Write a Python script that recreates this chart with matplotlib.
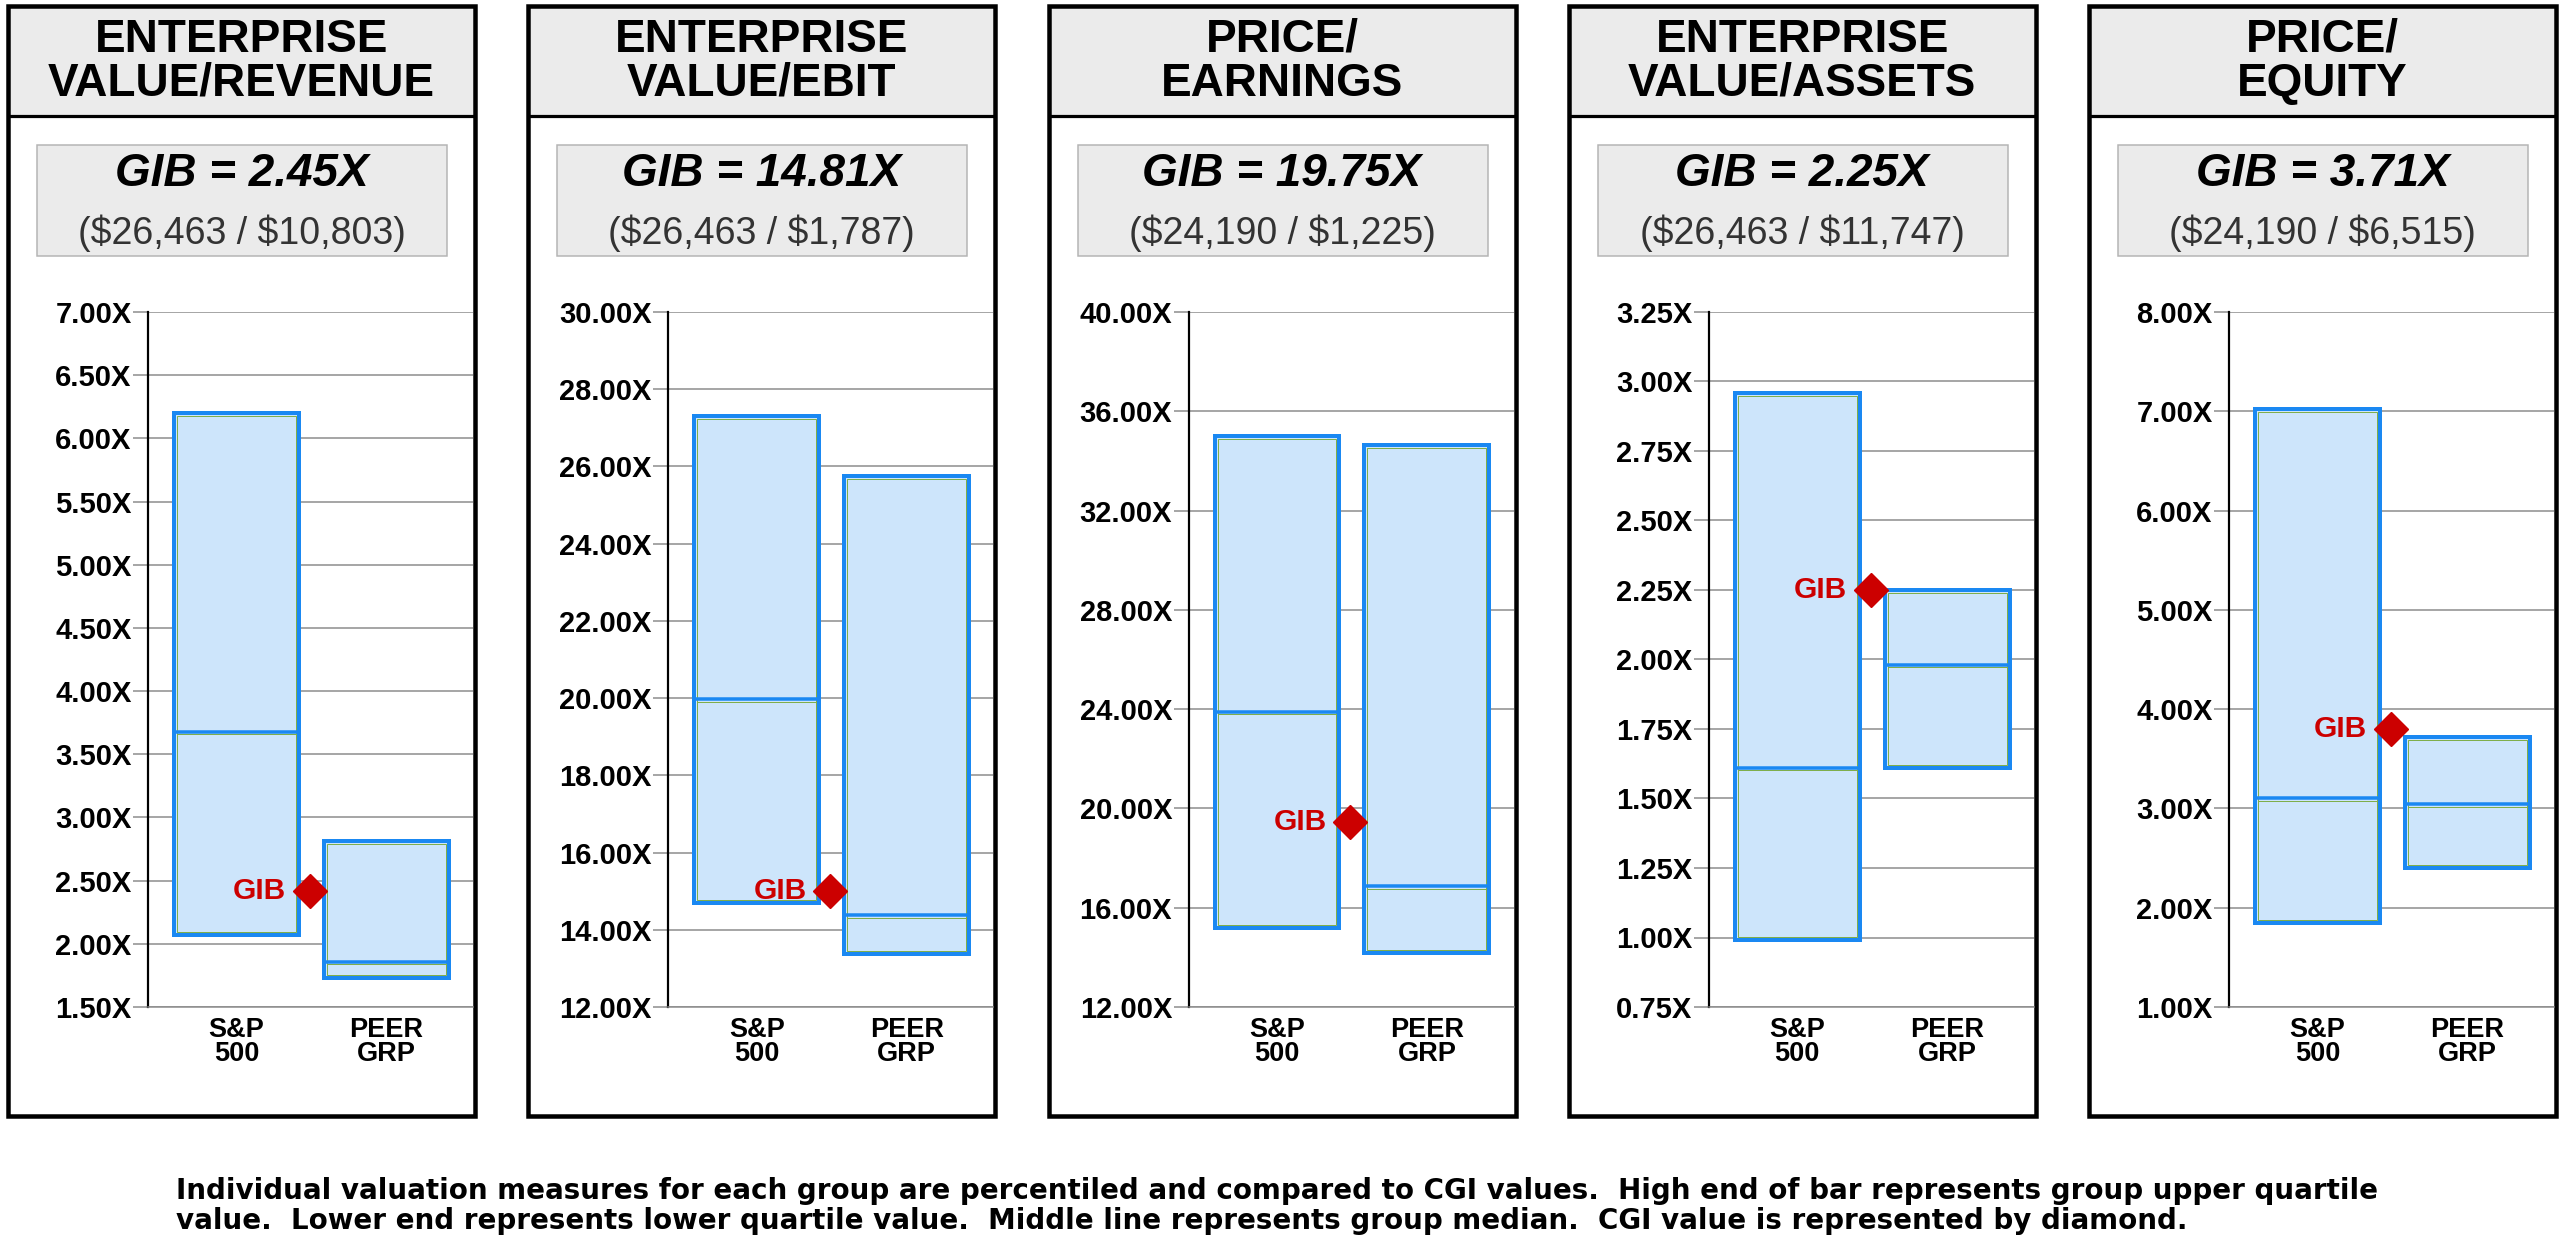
import matplotlib
matplotlib.use("Agg")
import matplotlib.pyplot as plt
from matplotlib.patches import Rectangle
import numpy as np

plt.rcParams['font.family'] = ['Liberation Sans', 'DejaVu Sans']

# ---------------- data ----------------
titles = ["ENTERPRISE\nVALUE/REVENUE", "ENTERPRISE\nVALUE/EBIT", "PRICE/\nEARNINGS",
          "ENTERPRISE\nVALUE/ASSETS", "PRICE/\nEQUITY"]
gib_labels = ["GIB = 2.45X", "GIB = 14.81X", "GIB = 19.75X", "GIB = 2.25X", "GIB = 3.71X"]
ratio_labels = ["($26,463 / $10,803)", "($26,463 / $1,787)", "($24,190 / $1,225)",
                "($26,463 / $11,747)", "($24,190 / $6,515)"]
categories = ["S&P\n500", "PEER\nGRP"]

sp_high = [6.20, 27.30, 35.00, 2.96, 7.02]
sp_median = [3.68, 19.97, 23.90, 1.61, 3.10]
sp_low = [2.07, 14.70, 15.20, 0.99, 1.85]
peer_high = [2.81, 25.76, 34.65, 2.25, 3.72]
peer_median = [1.86, 14.37, 16.86, 1.98, 3.04]
peer_low = [1.73, 13.36, 14.17, 1.61, 2.40]
gib_values = [2.42, 15.00, 19.46, 2.25, 3.80]

y_min = [1.50, 12.0, 12.0, 0.75, 1.0]
y_max = [7.00, 30.0, 40.0, 3.25, 8.0]
y_step = [0.50, 2.0, 4.0, 0.25, 1.0]

footnote_lines = [
    "Individual valuation measures for each group are percentiled and compared to CGI values.  High end of bar represents group upper quartile",
    "value.  Lower end represents lower quartile value.  Middle line represents group median.  CGI value is represented by diamond.",
]

# ---------------- style ----------------
FILL = '#cde5fb'
EDGE = '#1a88f2'
INNER = '#7fae4a'
RED = '#cc0000'
GRID = '#8a8a8a'
PANEL_GRAY = '#ebebeb'

W_PX, H_PX = 2560, 1257
fig = plt.figure(figsize=(W_PX / 100, H_PX / 100), dpi=100)
fig.patch.set_facecolor('white')

bg = fig.add_axes([0, 0, 1, 1])
bg.set_xlim(0, W_PX)
bg.set_ylim(H_PX, 0)
bg.axis('off')
bg.set_zorder(0)

PANEL_W = 467
AX_L, AX_W = 140, 325
AX_TOP, AX_BOT = 312, 1007
px2pt = 72 / 100

for i in range(5):
    L = 8 + i * 520.25
    cx = L + PANEL_W / 2
    # title bar
    bg.add_patch(Rectangle((L, 6), PANEL_W, 110, fc=PANEL_GRAY, ec='none', zorder=1))
    bg.plot([L, L + PANEL_W], [116, 116], color='black', lw=3.2 * px2pt, zorder=2,
            solid_capstyle='butt')
    bg.add_patch(Rectangle((L, 6), PANEL_W, 1110, fill=False, ec='black',
                           lw=4.5 * px2pt, zorder=3))
    bg.text(cx, 62, titles[i], ha='center', va='center', fontsize=33, fontweight='bold',
            linespacing=1.0, zorder=4)
    # GIB box
    bg.add_patch(Rectangle((L + 29, 145), 410, 111, fc=PANEL_GRAY, ec='#b4b4b4',
                           lw=1.5 * px2pt, zorder=1))
    bg.text(cx, 174, gib_labels[i], ha='center', va='center', fontsize=33,
            fontweight='bold', fontstyle='italic', zorder=4, parse_math=False)
    bg.text(cx, 233, ratio_labels[i], ha='center', va='center', fontsize=27,
            color='#333333', zorder=4, parse_math=False)

    # chart axes
    ax = fig.add_axes([(L + AX_L) / W_PX, 1 - AX_BOT / H_PX, AX_W / W_PX,
                       (AX_BOT - AX_TOP) / H_PX])
    ax.set_zorder(2)
    ax.set_facecolor('none')
    xlo, xhi = -0.59, 1.577
    ax.set_xlim(xlo, xhi)
    ax.set_ylim(y_min[i], y_max[i])
    ticks = np.arange(y_min[i], y_max[i] + y_step[i] / 2, y_step[i])
    ax.set_yticks(ticks)
    ax.set_yticklabels([f"{t:.2f}X" for t in ticks], fontsize=21, fontweight='bold')
    ax.tick_params(axis='y', length=15 * px2pt, width=1.5 * px2pt, color=GRID, pad=1)
    ax.set_xticks([0, 1])
    ax.set_xticklabels(categories, fontsize=19.5, fontweight='bold', linespacing=0.9)
    ax.tick_params(axis='x', length=0, pad=7)
    ax.yaxis.grid(True, color=GRID, lw=1.5 * px2pt)
    ax.set_axisbelow(True)
    for s in ['top', 'right']:
        ax.spines[s].set_visible(False)
    ax.spines['left'].set_color('black')
    ax.spines['left'].set_linewidth(2.2 * px2pt)
    ax.spines['bottom'].set_color(GRID)
    ax.spines['bottom'].set_linewidth(1.5 * px2pt)

    dx = 3.0 * (xhi - xlo) / AX_W
    dy = 3.0 * (y_max[i] - y_min[i]) / (AX_BOT - AX_TOP)
    bw = 0.833
    highs = [sp_high[i], peer_high[i]]
    meds = [sp_median[i], peer_median[i]]
    lows = [sp_low[i], peer_low[i]]
    for xpos, hi, md, lo in zip([0, 1], highs, meds, lows):
        ax.bar(xpos, hi - lo, bottom=lo, width=bw, color=FILL, edgecolor=EDGE,
               lw=4 * px2pt, zorder=3)
        ax.bar(xpos, hi - lo - 2 * dy, bottom=lo + dy, width=bw - 2 * dx, color='none',
               edgecolor=INNER, lw=1.0 * px2pt, zorder=4)
        ax.hlines(md, xpos - bw / 2, xpos + bw / 2, color=EDGE, lw=3.5 * px2pt, zorder=5)
        ax.hlines(md - dy * 0.8, xpos - bw / 2 + dx, xpos + bw / 2 - dx, color=INNER,
                  lw=1.0 * px2pt, zorder=5)
    ax.plot([0.49], [gib_values[i]], marker='D', ms=17.5, color=RED, mec=RED, zorder=7,
            clip_on=False, linestyle='none')
    ax.annotate('GIB', (0.49, gib_values[i]), xytext=(-17, 0), textcoords='offset points',
                ha='right', va='center', color=RED, fontsize=21.5, fontweight='bold',
                zorder=7)

bg.text(176, 1199, footnote_lines[0], ha='left', va='baseline', fontsize=20,
        fontweight='bold', family=['DejaVu Sans'])
bg.text(176, 1229, footnote_lines[1], ha='left', va='baseline', fontsize=20,
        fontweight='bold', family=['DejaVu Sans'])

fig.savefig('out.png', dpi=100)
